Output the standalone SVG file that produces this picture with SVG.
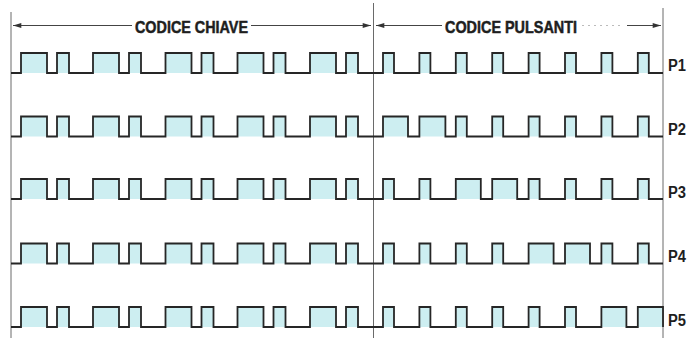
<svg xmlns="http://www.w3.org/2000/svg" width="687" height="338" viewBox="0 0 687 338">
<defs>
<marker id="ah" viewBox="0 0 10 6" refX="10" refY="3" markerWidth="9" markerHeight="5" orient="auto-start-reverse" markerUnits="userSpaceOnUse">
<path d="M0,0 L10,3 L0,6 Z" fill="#333"/>
</marker>
<style>
.sig{fill:none;stroke:#262626;stroke-width:1.8;stroke-linejoin:miter}
.fill{fill:#cdeef1}
.vl{stroke:#6a6a6a;stroke-width:1;fill:none}
.ar{stroke:#444;stroke-width:1;fill:none}
.hd{font-family:"Liberation Sans Narrow","Liberation Sans",Arial,sans-serif;font-weight:bold;font-size:17px;fill:#1e1e1e;stroke:#1e1e1e;stroke-width:0.5}
.lb{font-family:"Liberation Sans",Arial,sans-serif;font-weight:bold;font-size:16px;fill:#1e1e1e}
</style>
</defs>
<rect width="687" height="338" fill="#ffffff"/>
<g id="axes">
<line class="vl" x1="11" y1="12" x2="11" y2="338"/>
<line class="vl" x1="373.5" y1="3" x2="373.5" y2="338"/>
<line class="vl" x1="663" y1="8" x2="663" y2="338"/>
</g>
<g id="header">
<line class="ar" x1="132" y1="25.5" x2="13" y2="25.5" marker-end="url(#ah)"/>
<text class="hd" x="135" y="33" textLength="113" lengthAdjust="spacingAndGlyphs">CODICE CHIAVE</text>
<line class="ar" x1="251" y1="25.5" x2="371" y2="25.5" marker-end="url(#ah)"/>
<line class="ar" x1="442" y1="25.5" x2="376" y2="25.5" marker-end="url(#ah)"/>
<text class="hd" x="445" y="33" textLength="132" lengthAdjust="spacingAndGlyphs">CODICE PULSANTI</text>
<line x1="582" y1="25.5" x2="624" y2="25.5" stroke="#bbb" stroke-width="1" stroke-dasharray="2 4"/>
<line class="ar" x1="627" y1="25.5" x2="661" y2="25.5" marker-end="url(#ah)"/>
</g>
<g id="P1">
<g class="fill">
<rect x="21" y="53" width="26" height="20"/><rect x="57" y="53" width="12" height="20"/>
<rect x="93" y="53" width="26" height="20"/><rect x="129" y="53" width="12" height="20"/>
<rect x="165.5" y="53" width="26" height="20"/><rect x="201.5" y="53" width="12" height="20"/>
<rect x="237.5" y="53" width="26" height="20"/><rect x="273.5" y="53" width="12" height="20"/>
<rect x="310" y="53" width="26" height="20"/><rect x="346" y="53" width="12" height="20"/>
<rect x="383" y="53" width="11" height="20"/><rect x="419.4" y="53" width="11" height="20"/>
<rect x="455.8" y="53" width="11" height="20"/><rect x="492.2" y="53" width="11" height="20"/>
<rect x="528.6" y="53" width="11" height="20"/><rect x="565" y="53" width="11" height="20"/>
<rect x="601.4" y="53" width="11" height="20"/><rect x="637.8" y="53" width="11" height="20"/>
</g>
<path class="sig" d="M11,73 H21 V53 H47 V73 H57 V53 H69 V73 H93 V53 H119 V73 H129 V53 H141 V73 H165.5 V53 H191.5 V73 H201.5 V53 H213.5 V73 H237.5 V53 H263.5 V73 H273.5 V53 H285.5 V73 H310 V53 H336 V73 H346 V53 H358 V73 H383 V53 H394 V73 H419.4 V53 H430.4 V73 H455.8 V53 H466.8 V73 H492.2 V53 H503.2 V73 H528.6 V53 H539.6 V73 H565 V53 H576 V73 H601.4 V53 H612.4 V73 H637.8 V53 H648.8 V73 H663"/>
<text class="lb" x="668" y="71" textLength="18" lengthAdjust="spacingAndGlyphs">P1</text>
</g>
<g id="P2">
<g class="fill">
<rect x="21" y="116.5" width="26" height="20"/><rect x="57" y="116.5" width="12" height="20"/>
<rect x="93" y="116.5" width="26" height="20"/><rect x="129" y="116.5" width="12" height="20"/>
<rect x="165.5" y="116.5" width="26" height="20"/><rect x="201.5" y="116.5" width="12" height="20"/>
<rect x="237.5" y="116.5" width="26" height="20"/><rect x="273.5" y="116.5" width="12" height="20"/>
<rect x="310" y="116.5" width="26" height="20"/><rect x="346" y="116.5" width="12" height="20"/>
<rect x="383" y="116.5" width="25" height="20"/><rect x="419.4" y="116.5" width="26" height="20"/>
<rect x="455.8" y="116.5" width="11" height="20"/><rect x="492.2" y="116.5" width="11" height="20"/>
<rect x="528.6" y="116.5" width="11" height="20"/><rect x="565" y="116.5" width="11" height="20"/>
<rect x="601.4" y="116.5" width="11" height="20"/><rect x="637.8" y="116.5" width="11" height="20"/>
</g>
<path class="sig" d="M11,136.5 H21 V116.5 H47 V136.5 H57 V116.5 H69 V136.5 H93 V116.5 H119 V136.5 H129 V116.5 H141 V136.5 H165.5 V116.5 H191.5 V136.5 H201.5 V116.5 H213.5 V136.5 H237.5 V116.5 H263.5 V136.5 H273.5 V116.5 H285.5 V136.5 H310 V116.5 H336 V136.5 H346 V116.5 H358 V136.5 H383 V116.5 H408 V136.5 H419.4 V116.5 H445.4 V136.5 H455.8 V116.5 H466.8 V136.5 H492.2 V116.5 H503.2 V136.5 H528.6 V116.5 H539.6 V136.5 H565 V116.5 H576 V136.5 H601.4 V116.5 H612.4 V136.5 H637.8 V116.5 H648.8 V136.5 H663"/>
<text class="lb" x="668" y="135" textLength="18" lengthAdjust="spacingAndGlyphs">P2</text>
</g>
<g id="P3">
<g class="fill">
<rect x="21" y="179" width="26" height="20"/><rect x="57" y="179" width="12" height="20"/>
<rect x="93" y="179" width="26" height="20"/><rect x="129" y="179" width="12" height="20"/>
<rect x="165.5" y="179" width="26" height="20"/><rect x="201.5" y="179" width="12" height="20"/>
<rect x="237.5" y="179" width="26" height="20"/><rect x="273.5" y="179" width="12" height="20"/>
<rect x="310" y="179" width="26" height="20"/><rect x="346" y="179" width="12" height="20"/>
<rect x="383" y="179" width="11" height="20"/><rect x="419.4" y="179" width="11" height="20"/>
<rect x="455.8" y="179" width="25" height="20"/><rect x="492.2" y="179" width="25" height="20"/>
<rect x="528.6" y="179" width="11" height="20"/><rect x="565" y="179" width="11" height="20"/>
<rect x="601.4" y="179" width="11" height="20"/><rect x="637.8" y="179" width="11" height="20"/>
</g>
<path class="sig" d="M11,199 H21 V179 H47 V199 H57 V179 H69 V199 H93 V179 H119 V199 H129 V179 H141 V199 H165.5 V179 H191.5 V199 H201.5 V179 H213.5 V199 H237.5 V179 H263.5 V199 H273.5 V179 H285.5 V199 H310 V179 H336 V199 H346 V179 H358 V199 H383 V179 H394 V199 H419.4 V179 H430.4 V199 H455.8 V179 H480.8 V199 H492.2 V179 H517.2 V199 H528.6 V179 H539.6 V199 H565 V179 H576 V199 H601.4 V179 H612.4 V199 H637.8 V179 H648.8 V199 H663"/>
<text class="lb" x="668" y="198" textLength="18" lengthAdjust="spacingAndGlyphs">P3</text>
</g>
<g id="P4">
<g class="fill">
<rect x="21" y="243.5" width="26" height="20"/><rect x="57" y="243.5" width="12" height="20"/>
<rect x="93" y="243.5" width="26" height="20"/><rect x="129" y="243.5" width="12" height="20"/>
<rect x="165.5" y="243.5" width="26" height="20"/><rect x="201.5" y="243.5" width="12" height="20"/>
<rect x="237.5" y="243.5" width="26" height="20"/><rect x="273.5" y="243.5" width="12" height="20"/>
<rect x="310" y="243.5" width="26" height="20"/><rect x="346" y="243.5" width="12" height="20"/>
<rect x="383" y="243.5" width="11" height="20"/><rect x="419.4" y="243.5" width="11" height="20"/>
<rect x="455.8" y="243.5" width="11" height="20"/><rect x="492.2" y="243.5" width="11" height="20"/>
<rect x="528.6" y="243.5" width="25" height="20"/><rect x="565" y="243.5" width="25" height="20"/>
<rect x="601.4" y="243.5" width="11" height="20"/><rect x="637.8" y="243.5" width="11" height="20"/>
</g>
<path class="sig" d="M11,263.5 H21 V243.5 H47 V263.5 H57 V243.5 H69 V263.5 H93 V243.5 H119 V263.5 H129 V243.5 H141 V263.5 H165.5 V243.5 H191.5 V263.5 H201.5 V243.5 H213.5 V263.5 H237.5 V243.5 H263.5 V263.5 H273.5 V243.5 H285.5 V263.5 H310 V243.5 H336 V263.5 H346 V243.5 H358 V263.5 H383 V243.5 H394 V263.5 H419.4 V243.5 H430.4 V263.5 H455.8 V243.5 H466.8 V263.5 H492.2 V243.5 H503.2 V263.5 H528.6 V243.5 H553.6 V263.5 H565 V243.5 H590 V263.5 H601.4 V243.5 H612.4 V263.5 H637.8 V243.5 H648.8 V263.5 H663"/>
<text class="lb" x="668" y="262" textLength="18" lengthAdjust="spacingAndGlyphs">P4</text>
</g>
<g id="P5">
<g class="fill">
<rect x="21" y="307" width="26" height="20"/><rect x="57" y="307" width="12" height="20"/>
<rect x="93" y="307" width="26" height="20"/><rect x="129" y="307" width="12" height="20"/>
<rect x="165.5" y="307" width="26" height="20"/><rect x="201.5" y="307" width="12" height="20"/>
<rect x="237.5" y="307" width="26" height="20"/><rect x="273.5" y="307" width="12" height="20"/>
<rect x="310" y="307" width="26" height="20"/><rect x="346" y="307" width="12" height="20"/>
<rect x="383" y="307" width="11" height="20"/><rect x="419.4" y="307" width="11" height="20"/>
<rect x="455.8" y="307" width="11" height="20"/><rect x="492.2" y="307" width="11" height="20"/>
<rect x="528.6" y="307" width="11" height="20"/><rect x="565" y="307" width="11" height="20"/>
<rect x="601.4" y="307" width="25" height="20"/><rect x="637.8" y="307" width="25.2" height="20"/>
</g>
<path class="sig" d="M11,327 H21 V307 H47 V327 H57 V307 H69 V327 H93 V307 H119 V327 H129 V307 H141 V327 H165.5 V307 H191.5 V327 H201.5 V307 H213.5 V327 H237.5 V307 H263.5 V327 H273.5 V307 H285.5 V327 H310 V307 H336 V327 H346 V307 H358 V327 H383 V307 H394 V327 H419.4 V307 H430.4 V327 H455.8 V307 H466.8 V327 H492.2 V307 H503.2 V327 H528.6 V307 H539.6 V327 H565 V307 H576 V327 H601.4 V307 H626.4 V327 H637.8 V307 H663 V327"/>
<text class="lb" x="668" y="326" textLength="18" lengthAdjust="spacingAndGlyphs">P5</text>
</g>
</svg>
